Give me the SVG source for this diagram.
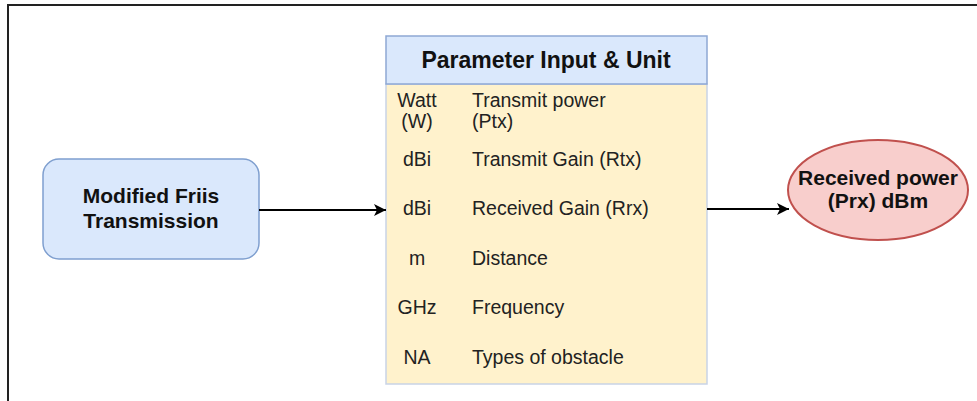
<svg xmlns="http://www.w3.org/2000/svg" width="977" height="401" viewBox="0 0 977 401">
  <defs>
    <marker id="arrow" viewBox="0 0 10 10" refX="10" refY="5" markerWidth="12" markerHeight="12" markerUnits="userSpaceOnUse" orient="auto">
      <path d="M0,0 L10,5 L0,10 L2.5,5 Z" fill="#000"/>
    </marker>
  </defs>
  <style>
    .bold { font-family: "Liberation Sans", Arial, sans-serif; font-weight: bold; fill: #111; }
    .cell { font-family: "Liberation Sans", Arial, sans-serif; font-size: 19.5px; fill: #222; }
    .edge { stroke: #000; stroke-width: 2; fill: none; }
  </style>
  <rect width="977" height="401" fill="#fff"/>
  <!-- outer frame -->
  <rect x="8" y="5" width="980" height="410" fill="none" stroke="#222" stroke-width="2"/>

  <g id="friis">
    <rect x="43" y="159" width="216" height="100" rx="16" ry="16" fill="#dae8fc" stroke="#7f9fcf" stroke-width="1.5"/>
    <text class="bold" font-size="21" x="151" y="203" text-anchor="middle">Modified Friis</text>
    <text class="bold" font-size="21" x="151" y="228" text-anchor="middle">Transmission</text>
  </g>

  <g id="parameters">
    <rect x="386" y="84" width="321" height="300" fill="#fff2cc" stroke="#c9d3e6" stroke-width="1.5"/>
    <rect x="386" y="36" width="321" height="48" fill="#dae8fc" stroke="#8ea8d4" stroke-width="1.5"/>
    <text class="bold" font-size="23" x="546" y="68" text-anchor="middle">Parameter Input &amp; Unit</text>
    <g class="cell">
      <text x="417" y="107" text-anchor="middle">Watt</text>
      <text x="417" y="128" text-anchor="middle">(W)</text>
      <text x="472" y="107">Transmit power</text>
      <text x="472" y="128">(Ptx)</text>
      <text x="417" y="166" text-anchor="middle">dBi</text>
      <text x="472" y="166">Transmit Gain (Rtx)</text>
      <text x="417" y="215" text-anchor="middle">dBi</text>
      <text x="472" y="215">Received Gain (Rrx)</text>
      <text x="417" y="265" text-anchor="middle">m</text>
      <text x="472" y="265">Distance</text>
      <text x="417" y="314" text-anchor="middle">GHz</text>
      <text x="472" y="314">Frequency</text>
      <text x="417" y="364" text-anchor="middle">NA</text>
      <text x="472" y="364">Types of obstacle</text>
    </g>
  </g>

  <g id="received">
    <ellipse cx="878" cy="190" rx="90" ry="50" fill="#f8cecc" stroke="#c0504d" stroke-width="2"/>
    <text class="bold" font-size="21" x="878" y="185" text-anchor="middle">Received power</text>
    <text class="bold" font-size="21" x="878" y="208" text-anchor="middle">(Prx) dBm</text>
  </g>

  <g id="connectors">
    <line class="edge" x1="259" y1="210" x2="386" y2="210" marker-end="url(#arrow)"/>
    <line class="edge" x1="707" y1="209" x2="789" y2="209" marker-end="url(#arrow)"/>
  </g>
</svg>
